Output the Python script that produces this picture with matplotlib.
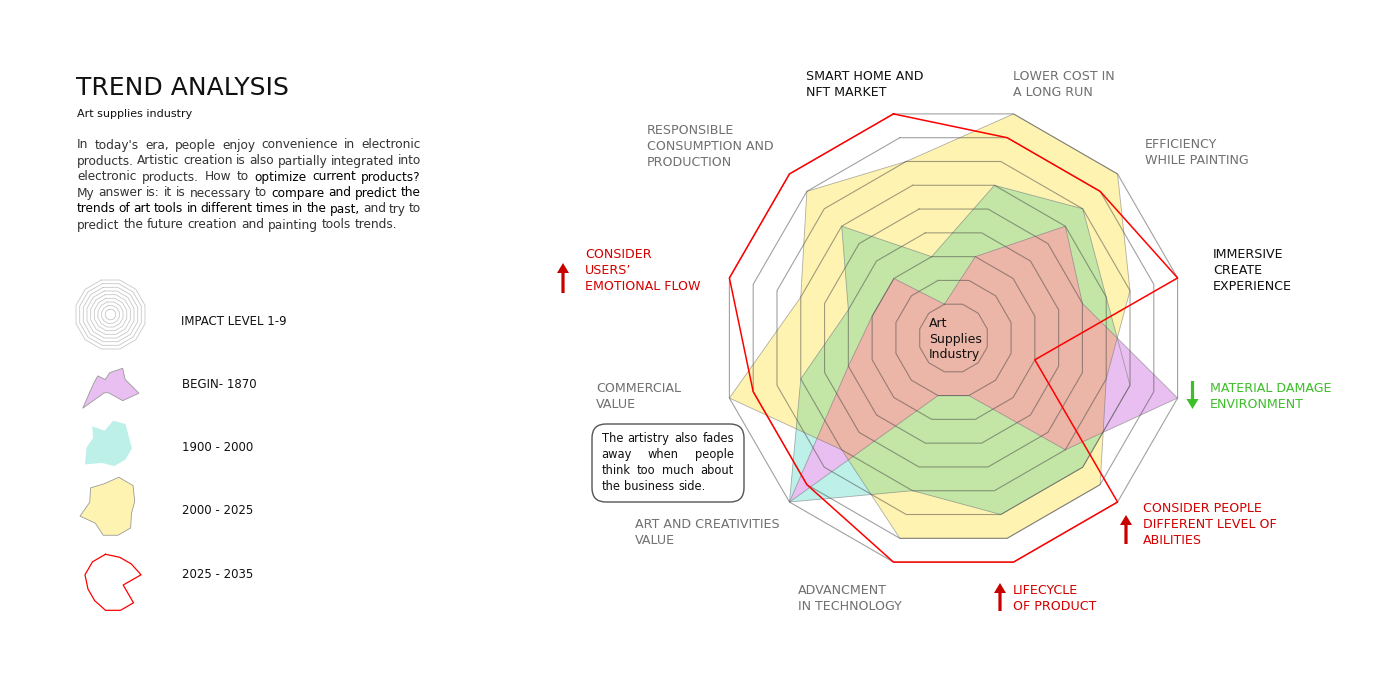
import numpy as np
import matplotlib
matplotlib.use('Agg')
import matplotlib.pyplot as plt
from matplotlib.patches import FancyBboxPatch, FancyArrow

plt.rcParams['font.family'] = ['DejaVu Sans']

# ---- data -------------------------------------------------------------
axis_labels = [
    'SMART HOME AND\nNFT MARKET',
    'LOWER COST IN\nA LONG RUN',
    'EFFICIENCY\nWHILE PAINTING',
    'IMMERSIVE\nCREATE\nEXPERIENCE',
    'MATERIAL DAMAGE\nENVIRONMENT',
    'CONSIDER PEOPLE\nDIFFERENT LEVEL OF\nABILITIES',
    'LIFECYCLE\nOF PRODUCT',
    'ADVANCMENT\nIN TECHNOLOGY',
    'ART AND CREATIVITIES\nVALUE',
    'COMMERCIAL\nVALUE',
    'CONSIDER\nUSERS\u2019\nEMOTIONAL FLOW',
    'RESPONSIBLE\nCONSUMPTION AND\nPRODUCTION',
]
begin_1870 = [1, 3, 6, 5, 9, 6, 2, 2, 9, 4, 3, 3]
p1900_2000 = [3, 6, 7, 6, 7, 7, 7, 6, 9, 6, 4, 6]
p2000_2025 = [7, 9, 9, 7, 6, 8, 8, 8, 6, 9, 6, 8]
p2025_2035 = [9, 8, 8, 9, 3, 9, 9, 9, 8, 8, 9, 9]
levels = list(range(1, 10))
series_names = ['BEGIN- 1870', '1900 - 2000', '2000 - 2025', '2025 - 2035']

# label layout (left x, first line y) and colour
GRAY, RED, GREEN = '#707070', '#D40000', '#3CBF28'
label_pos = [(806, 77), (1013, 77), (1145, 145), (1213, 254), (1210, 389), (1143, 508),
             (1013, 590), (798, 590), (635, 524), (596, 389), (585, 254), (647, 130)]
label_col = ['#111111', GRAY, GRAY, '#111111', GREEN, RED, RED, GRAY, GRAY, GRAY, RED, GRAY]

YELLOW, CYAN, GREENF = '#FFF3B2', '#BDF0E9', '#C3E5A6'
PURPLE, SALMON = '#E8BFF0', '#EBB5A7'

W, H = 1400, 700
R0 = 0.42  # radial offset of level 0

fig = plt.figure(figsize=(14, 7), dpi=100)

theta = np.arange(12) * 2 * np.pi / 12
thc = np.append(theta, theta[0])


def close(v):
    return list(v) + [v[0]]


def radar_axes(cx, cy, R):
    a = fig.add_axes([(cx - R) / W, 1 - (cy + R) / H, 2 * R / W, 2 * R / H], projection='polar')
    a.set_theta_offset(np.deg2rad(105))
    a.set_theta_direction(-1)
    a.set_ylim(0, 9)
    a.set_rorigin(-R0)
    a.axis('off')
    return a


# ---- main radar ---------------------------------------------------------
ax = radar_axes(953.5, 338, 232)

yel = ax.fill(theta, p2000_2025, color=YELLOW, lw=0, zorder=1)[0]
yel.set_clip_on(False)
cy_ = ax.fill(theta, p1900_2000, color=CYAN, lw=0, zorder=2)[0]
cy_.set_clip_on(False)
gr = ax.fill(theta, p1900_2000, color=GREENF, lw=0, zorder=3)[0]
gr.set_clip_path(yel)
pu = ax.fill(theta, begin_1870, color=PURPLE, lw=0, zorder=4)[0]
pu.set_clip_on(False)
sa = ax.fill(theta, begin_1870, color=SALMON, lw=0, zorder=5)[0]
sa.set_clip_path(yel)

for vals in (p2000_2025, p1900_2000, begin_1870):
    ax.plot(thc, close(vals), color='#707070', lw=0.6, alpha=0.55, zorder=6, clip_on=False)

for k in levels:
    ax.plot(thc, [k] * 13, color='#444444', lw=0.8, alpha=0.5, zorder=7, clip_on=False)

ax.plot(thc, close(p2025_2035), color='#FF0000', lw=1.1, zorder=8, clip_on=False)

# ---- legend icons -------------------------------------------------------
g = radar_axes(110.5, 314.5, 35.7)
for k in levels:
    g.plot(thc, [k] * 13, color='#C8C8C8', lw=0.6, clip_on=False)

a1 = radar_axes(106.5, 384.5, 33.6)
a1.fill(theta, begin_1870, color=PURPLE, ec='#9a9a9a', lw=0.6, clip_on=False)
a2 = radar_axes(107.6, 441.8, 32)
a2.fill(theta, p1900_2000, color=CYAN, lw=0, clip_on=False)
a3 = radar_axes(110.6, 507.9, 31.7)
a3.fill(theta, p2000_2025, color=YELLOW, ec='#9a9a9a', lw=0.6, clip_on=False)
a4 = radar_axes(113, 582.3, 29)
a4.plot(thc, close(p2025_2035), color='#FF0000', lw=0.9, clip_on=False)

# ---- overlay for text ---------------------------------------------------
ov = fig.add_axes([0, 0, 1, 1])
ov.set_xlim(0, W)
ov.set_ylim(H, 0)
ov.axis('off')
renderer = fig.canvas.get_renderer()


def justify(segments, x0, x1, y, size, last=False):
    words = []
    for txt, col in segments:
        for w in txt.split():
            words.append((w, col))
    items = []
    for w, col in words:
        t = ov.text(x0, y, w, fontsize=size, color=col, va='center', ha='left')
        items.append((t, t.get_window_extent(renderer).width))
    total = sum(wd for _, wd in items)
    if last:
        gap = 0.318 * size * 100 / 72
    else:
        gap = (x1 - x0 - total) / (len(items) - 1)
    x = x0
    for t, wd in items:
        t.set_x(x)
        x += wd + gap


ov.text(76, 88, 'TREND ANALYSIS', fontsize=18, va='center', ha='left', color='#111111')
ov.text(77, 114, 'Art supplies industry', fontsize=8, va='center', ha='left', color='#111111')

N, B = '#333333', '#000000'
para = [
    [("In today's era, people enjoy convenience in electronic", N)],
    [('products. Artistic creation is also partially integrated into', N)],
    [('electronic products. How to', N), ('optimize current products?', B)],
    [('My answer is: it is necessary to', N), ('compare and predict the', B)],
    [('trends of art tools in different times in the past,', B), ('and try to', N)],
    [('predict the future creation and painting tools trends.', N)],
]
for i, segs in enumerate(para):
    justify(segs, 77, 421, 145 + 16 * i, 8.7, last=(i == len(para) - 1))

# note box
ov.add_patch(FancyBboxPatch((592, 424), 152, 78, boxstyle='round,pad=0,rounding_size=14',
                            fc='white', ec='#555555', lw=1))
note = ['The artistry also fades', 'away when people', 'think too much about', 'the business side.']
for i, line in enumerate(note):
    justify([(line, '#111111')], 601.5, 734, 438.5 + 15.9 * i, 8.3, last=(i == len(note) - 1))

# legend labels
for i, (name, y) in enumerate(zip(['IMPACT LEVEL 1-9'] + series_names, [321.5, 385, 447.5, 511, 575])):
    ov.text(181 if i == 0 else 182.5, y, name, fontsize=8.5, va='center', ha='left', color='#111111')

# axis labels
for lab, (x, y), c in zip(axis_labels, label_pos, label_col):
    for j, line in enumerate(lab.split('\n')):
        ov.text(x, y + 16 * j, line, fontsize=9.1, va='center', ha='left', color=c)

# centre text
ov.text(929, 339, 'Art\nSupplies\nIndustry', fontsize=9, va='center', ha='left',
        linespacing=1.25, color='#111111')

# arrows
for x, y0, dy, c in [(563, 293, -30, '#C80000'), (1192.5, 381, 28, GREEN),
                     (1126, 544, -29, '#C80000'), (1000, 611, -28, '#C80000')]:
    ov.add_patch(FancyArrow(x, y0, 0, dy, width=3.2, head_width=12, head_length=10,
                            length_includes_head=True, color=c, lw=0))

fig.savefig('out.png', dpi=100)
